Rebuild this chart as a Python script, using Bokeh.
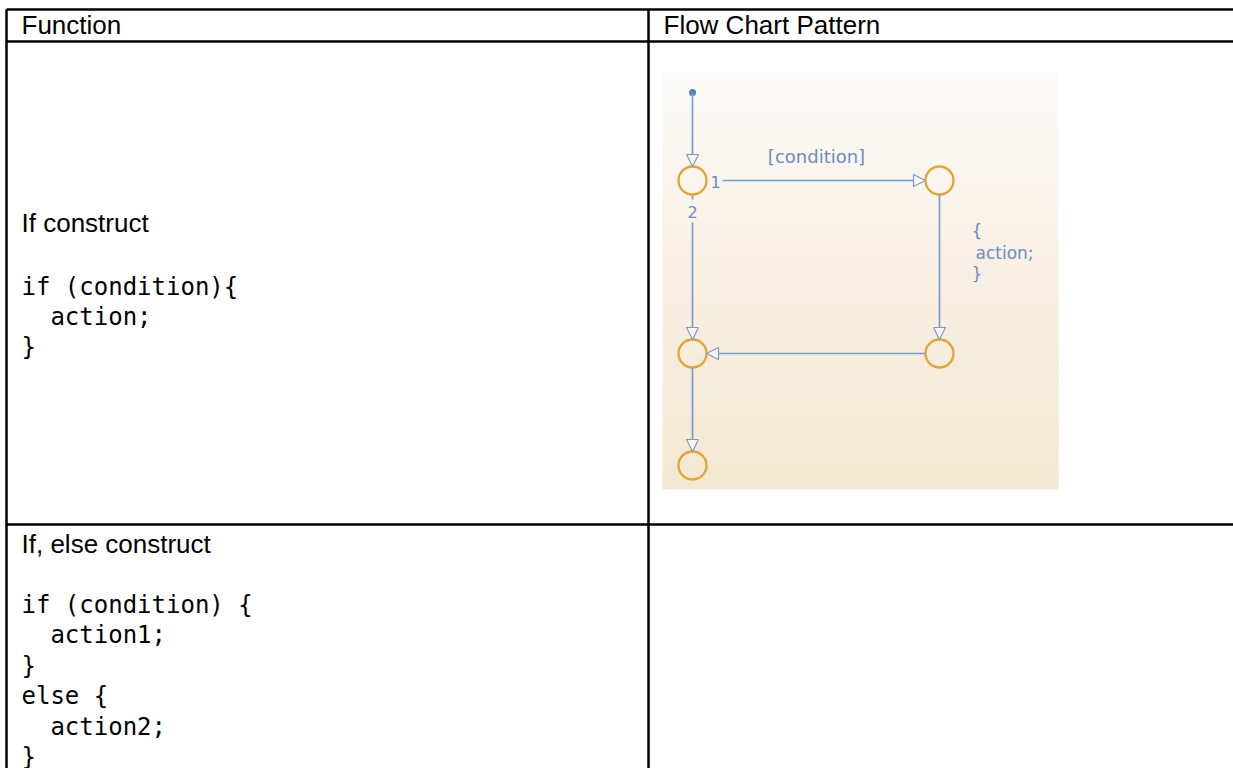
from bokeh.plotting import figure
from bokeh.models import Range1d, Arrow, NormalHead
from bokeh.core.properties import value
from bokeh.embed import file_html
from bokeh.resources import INLINE

# ---------------- data ----------------
header_labels = ["Function", "Flow Chart Pattern"]
row_titles = ["If construct", "If, else construct"]
row1_code = ["if (condition){", "  action;", "}"]
row2_code = ["if (condition) {", "  action1;", "}", "else {", "  action2;", "}"]

# flow chart (junction nodes, in the picture's pixel space)
node_names = ["n1", "n2", "n3", "n4", "n5"]
node_x = [692, 939, 939, 692, 692]
node_y = [180, 180, 353, 353, 465]
start_x, start_y = 692, 92
edge_from = ["start", "n1", "n2", "n3", "n1", "n4"]
edge_to = ["n1", "n2", "n3", "n4", "n4", "n5"]
condition_label = "[condition]"
action_lines = ["{", " action;", "}"]
order_labels = ["1", "2"]

# ---------------- styling / layout ----------------
W, H = 1233, 768
X0, Y0 = 0, 0
FONT = "Liberation Sans"
MONO = "DejaVu Sans Mono"
CODE_SIZE = 24
CHAR_W = 0.602 * CODE_SIZE
LINE_C = "#7b9bcb"
NODE_C = "#e2a535"
LABEL_C = "#6c8cc0"
R = 14

p = figure(width=W, height=H, output_backend="svg", toolbar_location=None,
           x_range=Range1d(X0, X0 + W), y_range=Range1d(Y0 + H, Y0),
           min_border=0, background_fill_color="white",
           border_fill_color="white")
p.axis.visible = False
p.grid.visible = False
p.outline_line_color = None

# flow chart background gradient
def lerp(c1, c2, t):
    a = [int(c1[i:i + 2], 16) for i in (1, 3, 5)]
    b = [int(c2[i:i + 2], 16) for i in (1, 3, 5)]
    return "#%02x%02x%02x" % tuple(round(a[k] + (b[k] - a[k]) * t) for k in range(3))

img_l, img_r, img_t, img_b = 662, 1058, 72, 489
nb = 140
tops, bots, cols = [], [], []
for i in range(nb):
    t0 = img_t + (img_b - img_t) * i / nb
    t1 = img_t + (img_b - img_t) * (i + 1) / nb
    tops.append(t0)
    bots.append(min(t1 + 0.6, img_b))
    f = i / (nb - 1)
    if f < 0.5:
        cols.append(lerp("#fcfbf9", "#f8efe3", f / 0.5))
    else:
        cols.append(lerp("#f8efe3", "#f3e8d1", (f - 0.5) / 0.5))
p.quad(left=img_l, right=img_r, top=tops, bottom=bots, fill_color=cols, line_color=None)

# table grid
tbl_l, tbl_r, tbl_t, tbl_b = 6, X0 + W, 9, Y0 + H
col_x = 648
row_lines = [9, 41, 524]
p.segment(x0=[tbl_l] * len(row_lines), x1=[tbl_r] * len(row_lines),
          y0=row_lines, y1=row_lines, line_color="black", line_width=2.5)
p.segment(x0=[tbl_l, col_x], x1=[tbl_l, col_x], y0=[tbl_t, tbl_t], y1=[tbl_b, tbl_b],
          line_color="black", line_width=2.5)

# header texts
p.text(x=[21, 663], y=[24, 24], text=header_labels, text_font=value(FONT),
       text_font_size="26px", text_baseline="middle", text_color="black")
# row titles
p.text(x=[21, 21], y=[222, 543], text=row_titles, text_font=value(FONT),
       text_font_size="26px", text_baseline="middle", text_color="black")

# code lines
def code_block(lines, y0, dy):
    xs, ys, ts = [], [], []
    for i, s in enumerate(lines):
        ind = len(s) - len(s.lstrip(" "))
        xs.append(21 + ind * CHAR_W)
        ys.append(y0 + i * dy)
        ts.append(s.lstrip(" "))
    p.text(x=xs, y=ys, text=ts, text_font=value(MONO), text_font_size=f"{CODE_SIZE}px",
           text_baseline="middle", text_color="black")

code_block(row1_code, 286, 30)
code_block(row2_code, 604, 30.5)

# flow chart edges
pos = {n: (x, y) for n, x, y in zip(node_names, node_x, node_y)}
pos["start"] = (start_x, start_y)

def add_arrow(x0, y0, x1, y1):
    p.add_layout(Arrow(end=NormalHead(size=12, line_color=LINE_C, line_width=1.2,
                                      fill_color="#faf5ec"),
                       x_start=x0, y_start=y0, x_end=x1, y_end=y1,
                       line_color=LINE_C, line_width=1.7))

for a, b in zip(edge_from, edge_to):
    (xa, ya), (xb, yb) = pos[a], pos[b]
    dx, dy = xb - xa, yb - ya
    L = (dx * dx + dy * dy) ** 0.5
    ux, uy = dx / L, dy / L
    ra = 0 if a == "start" else R
    sx, sy = xa + ux * ra, ya + uy * ra
    ex, ey = xb - ux * R, yb - uy * R
    if a == "n1" and b == "n2":
        sx = xa + R + 16
    if a == "n1" and b == "n4":
        p.segment(x0=[sx], y0=[sy], x1=[sx], y1=[sy + 5], line_color=LINE_C, line_width=1.7)
        sy = ya + 42
    add_arrow(sx, sy, ex, ey)

# nodes
p.scatter(x=node_x, y=node_y, size=2 * R, marker="circle", fill_color=None,
          line_color=NODE_C, line_width=2.3)
p.scatter(x=[start_x], y=[start_y], size=7, marker="circle", fill_color="#4d7fc0",
          line_color=None)

# flow chart labels
p.text(x=[816], y=[156], text=[condition_label], text_font=value("DejaVu Sans"),
       text_font_size="18px", text_align="center", text_baseline="middle",
       text_color=LABEL_C)
p.text(x=[715, 692], y=[181, 211], text=order_labels, text_font=value("DejaVu Sans"),
       text_font_size="16px", text_align="center", text_baseline="middle",
       text_color=LABEL_C)
p.text(x=[971, 975, 971], y=[230, 252, 273], text=action_lines,
       text_font=value("DejaVu Sans"), text_font_size="17px", text_align="left",
       text_baseline="middle", text_color=LABEL_C)

open("out.html", "w").write(file_html(p, INLINE))
